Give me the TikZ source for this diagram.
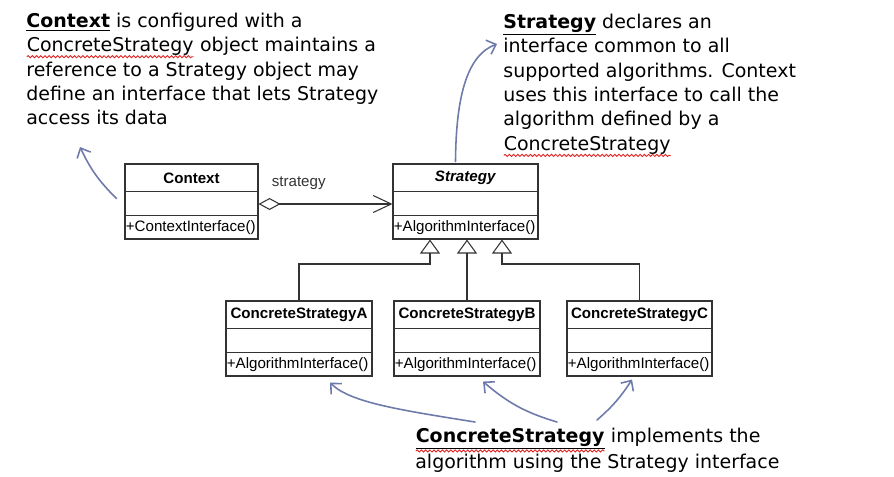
\documentclass[tikz,border=0pt]{standalone}
\usepackage{fontspec}
\setmainfont{DejaVu Sans}
\newfontfamily\umlfont{Liberation Sans}
\usepackage{tikz}
\usetikzlibrary{arrows.meta,positioning,decorations.pathmorphing}
\definecolor{umlline}{HTML}{333333}
\definecolor{penblue}{HTML}{6E7BAA}
\definecolor{spellred}{HTML}{E02020}
\tikzset{
  umlbox/.style={draw=umlline, line width=0.6pt, minimum height=1.5cm, inner sep=0pt},
  umlsep/.style={draw=umlline, line width=0.6pt},
  umltitle/.style={font=\umlfont\fontsize{8.6}{10}\selectfont\bfseries, minimum height=0.56cm, inner sep=0pt},
  umlop/.style={font=\umlfont\fontsize{8.6}{10}\selectfont, minimum height=0.46cm, inner sep=0.6pt},
  inherit/.style={draw=umlline, line width=0.6pt, -{Triangle[open, length=0.28cm, width=0.4cm]}},
  aggr/.style={draw=umlline, line width=0.6pt,
    {Diamond[open, length=0.44cm, width=0.24cm]}-{Straight Barb[length=0.36cm, width=0.34cm]}},
  lbl/.style={font=\umlfont\fontsize{8.6}{10}\selectfont, color=umlline, inner sep=0pt},
  note/.style={font=\fontsize{10.8}{13.9}\selectfont, align=left, inner sep=0pt},
  pen/.style={draw=penblue, line width=0.9pt, line cap=round, -{Straight Barb[length=0.16cm, width=0.3cm]}},
}
% red squiggle of a spell checker
\newcommand{\spellmark}[1]{\tikz[baseline=(sw.base)]{\node[inner sep=0pt, outer sep=0pt] (sw) {#1};
  \draw[spellred, line width=0.5pt, decorate, decoration={snake, amplitude=0.6pt, segment length=2.4pt}]
    ([yshift=-0.6pt]sw.south west) -- ([yshift=-0.6pt]sw.south east);}}

\begin{document}
\begin{tikzpicture}
  \useasboundingbox (0,0) rectangle (17.88,-9.52);

  % classes
  \node[umlbox, minimum width=2.66cm] (ctx) at (3.83,-4.03) {};
  \node[umlbox, minimum width=2.9cm] (strat) at (9.31,-4.03) {};
  \node[umlbox, minimum width=2.92cm] (csA) at (5.98,-6.77) {};
  \node[umlbox, minimum width=2.92cm] (csB) at (9.34,-6.77) {};
  \node[umlbox, minimum width=2.9cm] (csC) at (12.79,-6.77) {};

  \foreach \c in {ctx,strat,csA,csB,csC}{
    \draw[umlsep] ([yshift=-0.56cm]\c.north west) -- ([yshift=-0.56cm]\c.north east);
    \draw[umlsep] ([yshift=-1.04cm]\c.north west) -- ([yshift=-1.04cm]\c.north east);
  }

  \node[umltitle, below=0pt of ctx.north] (ctxname) {Context};
  \node[umltitle, below=0pt of strat.north] (stratname) {\textit{Strategy}};
  \node[umltitle, below=0pt of csA.north] (csAname) {ConcreteStrategyA};
  \node[umltitle, below=0pt of csB.north] (csBname) {ConcreteStrategyB};
  \node[umltitle, below=0pt of csC.north] (csCname) {ConcreteStrategyC};

  \node[umlop, above right=0pt of ctx.south west] (ctxop) {+ContextInterface()};
  \node[umlop, above right=0pt of strat.south west] (stratop) {+AlgorithmInterface()};
  \node[umlop, above right=0pt of csA.south west] (csAop) {+AlgorithmInterface()};
  \node[umlop, above right=0pt of csB.south west] (csBop) {+AlgorithmInterface()};
  \node[umlop, above right=0pt of csC.south west] (csCop) {+AlgorithmInterface()};

  % relations
  \draw[aggr] ([yshift=-0.05cm]ctx.east) --
    node[lbl, pos=0.3, above=0.28cm] (stratlbl) {strategy} ([yshift=-0.05cm]strat.west);

  \coordinate (jA) at (8.6,-5.28);
  \coordinate (jC) at (10.04,-5.28);
  \draw[inherit] (csA.north) |- (jA) -- (jA |- strat.south);
  \draw[inherit] (csB.north) -- (csB.north |- strat.south);
  \draw[inherit] (csC.north) |- (jC) -- (jC |- strat.south);

  % notes
  \node[note, anchor=north west] (ctxnote) at (0.52,-0.25)
    {\underline{\textbf{Context}} is configured with a\\
     \spellmark{ConcreteStrategy} object maintains a\\
     reference to a Strategy object may\\
     define an interface that lets Strategy\\
     access its data};

  \node[note, anchor=north west] (stratnote) at (10.06,-0.27)
    {\underline{\textbf{Strategy}} declares an\\
     interface common to all\\
     supported algorithms. Context\\
     uses this interface to call the\\
     algorithm defined by a\\
     \spellmark{ConcreteStrategy}};

  \node[note, anchor=north west] (csnote) at (8.3,-8.55)
    {\spellmark{\underline{\textbf{ConcreteStrategy}}} implements the\\
     algorithm using the Strategy interface};

  % pen marks
  \coordinate (ctxpt) at (1.6,-2.94);
  \coordinate (stratpt) at (9.94,-0.88);
  \coordinate (csApt) at (9.5,-8.44);
  \coordinate (csBpt) at (11.14,-8.44);
  \coordinate (csCpt) at (11.94,-8.4);

  \draw[pen] ([xshift=-0.16cm, yshift=0.06cm]ctx.west) to[bend left=10] (ctxpt);
  \draw[pen] ([xshift=-0.2cm, yshift=0.04cm]strat.north) .. controls (9.12,-1.9) and (9.35,-1.1) .. (stratpt);
  \draw[pen] (csApt) .. controls (8.0,-8.2) and (7.0,-8.05) .. ([xshift=0.62cm, yshift=-0.12cm]csA.south);
  \draw[pen] (csBpt) to[bend left=12] ([xshift=0.32cm, yshift=-0.1cm]csB.south);
  \draw[pen] (csCpt) to[bend right=8] ([xshift=-0.15cm, yshift=-0.06cm]csC.south);
\end{tikzpicture}
\end{document}
